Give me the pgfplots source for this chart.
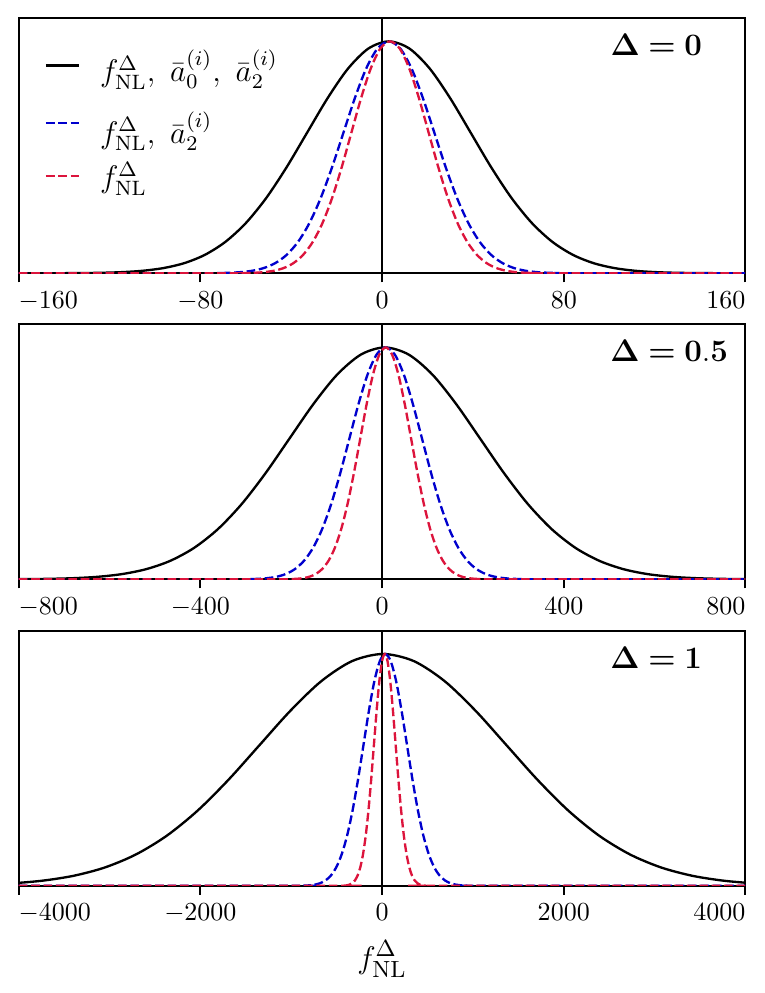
\documentclass[border=0pt]{standalone}
\usepackage{pgfplots}
\pgfplotsset{compat=1.18}
\usepackage{pgfplotstable}
\definecolor{mblue}{RGB}{0,0,205}
\definecolor{crimson}{RGB}{220,20,60}

% ---------- panel 1 (Delta = 0) ----------
\pgfplotstableread{
x y
-160 0
-141 0.00034
-132 0.00088
-123 0.00219
-114 0.00509
-105 0.01111
-96 0.02279
-87 0.04394
-78 0.07956
-69 0.13534
-60 0.21627
-51 0.32465
-42 0.45783
-33 0.60653
-24 0.75484
-15 0.88250
-6 0.96923
3 1.00000
12 0.96923
21 0.88250
30 0.75484
39 0.60653
48 0.45783
57 0.32465
66 0.21627
75 0.13534
84 0.07956
93 0.04394
102 0.02279
111 0.01111
120 0.00509
129 0.00219
138 0.00088
147 0.00034
160 0
}\blackA
\pgfplotstableread{
x y
-160 0
-77 0.00034
-72 0.00088
-67 0.00219
-62 0.00509
-57 0.01111
-52 0.02279
-47 0.04394
-42 0.07956
-37 0.13534
-32 0.21627
-27 0.32465
-22 0.45783
-17 0.60653
-12 0.75484
-7 0.88250
-2 0.96923
3 1.00000
8 0.96923
13 0.88250
18 0.75484
23 0.60653
28 0.45783
33 0.32465
38 0.21627
43 0.13534
48 0.07956
53 0.04394
58 0.02279
63 0.01111
68 0.00509
73 0.00219
78 0.00088
83 0.00034
160 0
}\blueA
\pgfplotstableread{
x y
-160 0
-64.5 0.00034
-60.25 0.00088
-56 0.00219
-51.75 0.00509
-47.5 0.01111
-43.25 0.02279
-39 0.04394
-34.75 0.07956
-30.5 0.13534
-26.25 0.21627
-22 0.32465
-17.75 0.45783
-13.5 0.60653
-9.25 0.75484
-5 0.88250
-0.75 0.96923
3.5 1.00000
7.75 0.96923
12 0.88250
16.25 0.75484
20.5 0.60653
24.75 0.45783
29 0.32465
33.25 0.21627
37.5 0.13534
41.75 0.07956
46 0.04394
50.25 0.02279
54.5 0.01111
58.75 0.00509
63 0.00219
67.25 0.00088
71.5 0.00034
160 0
}\redA

% ---------- panel 2 (Delta = 0.5) ----------
\pgfplotstableread{
x y
-834 0.00034
-781.5 0.00088
-729 0.00219
-676.5 0.00509
-624 0.01111
-571.5 0.02279
-519 0.04394
-466.5 0.07956
-414 0.13534
-361.5 0.21627
-309 0.32465
-256.5 0.45783
-204 0.60653
-151.5 0.75484
-99 0.88250
-46.5 0.96923
6 1.00000
58.5 0.96923
111 0.88250
163.5 0.75484
216 0.60653
268.5 0.45783
321 0.32465
373.5 0.21627
426 0.13534
478.5 0.07956
531 0.04394
583.5 0.02279
636 0.01111
688.5 0.00509
741 0.00219
793.5 0.00088
846 0.00034
}\blackB
\pgfplotstableread{
x y
-800 0
-312 0.00034
-292 0.00088
-272 0.00219
-252 0.00509
-232 0.01111
-212 0.02279
-192 0.04394
-172 0.07956
-152 0.13534
-132 0.21627
-112 0.32465
-92 0.45783
-72 0.60653
-52 0.75484
-32 0.88250
-12 0.96923
8 1.00000
28 0.96923
48 0.88250
68 0.75484
88 0.60653
108 0.45783
128 0.32465
148 0.21627
168 0.13534
188 0.07956
208 0.04394
228 0.02279
248 0.01111
268 0.00509
288 0.00219
308 0.00088
328 0.00034
800 0
}\blueB
\pgfplotstableread{
x y
-800 0
-216 0.00034
-202 0.00088
-188 0.00219
-174 0.00509
-160 0.01111
-146 0.02279
-132 0.04394
-118 0.07956
-104 0.13534
-90 0.21627
-76 0.32465
-62 0.45783
-48 0.60653
-34 0.75484
-20 0.88250
-6 0.96923
8 1.00000
22 0.96923
36 0.88250
50 0.75484
64 0.60653
78 0.45783
92 0.32465
106 0.21627
120 0.13534
134 0.07956
148 0.04394
162 0.02279
176 0.01111
190 0.00509
204 0.00219
218 0.00088
232 0.00034
800 0
}\redB

% ---------- panel 3 (Delta = 1) ----------
\pgfplotstableread{
x y
-5430 0.00034
-5090 0.00088
-4750 0.00219
-4410 0.00509
-4070 0.01111
-3730 0.02279
-3390 0.04394
-3050 0.07956
-2710 0.13534
-2370 0.21627
-2030 0.32465
-1690 0.45783
-1350 0.60653
-1010 0.75484
-670 0.88250
-330 0.96923
10 1.00000
350 0.96923
690 0.88250
1030 0.75484
1370 0.60653
1710 0.45783
2050 0.32465
2390 0.21627
2730 0.13534
3070 0.07956
3410 0.04394
3750 0.02279
4090 0.01111
4430 0.00509
4770 0.00219
5110 0.00088
5450 0.00034
}\blackC
\pgfplotstableread{
x y
-4000 0
-925 0.00034
-865 0.00088
-805 0.00219
-745 0.00509
-685 0.01111
-625 0.02279
-565 0.04394
-505 0.07956
-445 0.13534
-385 0.21627
-325 0.32465
-265 0.45783
-205 0.60653
-145 0.75484
-85 0.88250
-25 0.96923
35 1.00000
95 0.96923
155 0.88250
215 0.75484
275 0.60653
335 0.45783
395 0.32465
455 0.21627
515 0.13534
575 0.07956
635 0.04394
695 0.02279
755 0.01111
815 0.00509
875 0.00219
935 0.00088
995 0.00034
4000 0
}\blueC
\pgfplotstableread{
x y
-4000 0
-450 0.00034
-420 0.00088
-390 0.00219
-360 0.00509
-330 0.01111
-300 0.02279
-270 0.04394
-240 0.07956
-210 0.13534
-180 0.21627
-150 0.32465
-120 0.45783
-90 0.60653
-60 0.75484
-30 0.88250
0 0.96923
30 1.00000
60 0.96923
90 0.88250
120 0.75484
150 0.60653
180 0.45783
210 0.32465
240 0.21627
270 0.13534
300 0.07956
330 0.04394
360 0.02279
390 0.01111
420 0.00509
450 0.00219
480 0.00088
510 0.00034
4000 0
}\redC

\pgfplotsset{
  panel/.style={
    scale only axis, width=279.5pt, height=98.1pt,
    anchor=south west,
    ymin=0, ymax=1.1, ytick=\empty,
    axis line style={line width=0.8pt},
    tick align=outside, xtick pos=left,
    major tick length=3.5pt,
    major tick style={black, line width=0.8pt},
    title style={at={(0.8136,0.895)}, anchor=west, inner sep=0pt, yshift=-6pt,
      font=\fontsize{12}{14}\selectfont},
  },
  legend image code/.code={\draw[#1] (0pt,0pt) -- (12.7pt,0pt);},
}

\begin{document}
\begin{tikzpicture}
\path[use as bounding box] (0,0) rectangle (294.2pt,381.9pt);

% panel 3
\begin{axis}[panel, at={(7.19pt,41.2pt)},
  xmin=-4000, xmax=4000, xtick={-4000,-2000,0,2000,4000},
  xticklabels={\rlap{$-4000$},$-2000$,$0$,$2000$,\llap{$4000$}},
  xlabel={$f_{\mathrm{NL}}^{\Delta}$},
  xlabel style={font=\fontsize{12.5}{14}\selectfont},
  title={$\mathbf{\Delta}\mathrel{\textbf{=}}\mathbf{1}$},
]
\addplot[black, line width=0.6pt, forget plot] coordinates {(0,0) (0,1.1)};
\addplot[black, line width=0.9pt, smooth] table {\blackC};
\addplot[mblue, line width=0.9pt, dash pattern=on 3.33pt off 1.44pt, smooth] table {\blueC};
\addplot[crimson, line width=0.9pt, dash pattern=on 3.33pt off 1.44pt, smooth] table {\redC};
\end{axis}

% panel 2
\begin{axis}[panel, at={(7.19pt,159.1pt)},
  xmin=-800, xmax=800, xtick={-800,-400,0,400,800},
  xticklabels={\rlap{$-800$},$-400$,$0$,$400$,\llap{$800$}},
  title={$\mathbf{\Delta}\mathrel{\textbf{=}}\mathbf{0.5}$},
]
\addplot[black, line width=0.6pt, forget plot] coordinates {(0,0) (0,1.1)};
\addplot[black, line width=0.9pt, smooth] table {\blackB};
\addplot[mblue, line width=0.9pt, dash pattern=on 3.33pt off 1.44pt, smooth] table {\blueB};
\addplot[crimson, line width=0.9pt, dash pattern=on 3.33pt off 1.44pt, smooth] table {\redB};
\end{axis}

% panel 1
\begin{axis}[panel, at={(7.19pt,276.8pt)},
  xmin=-160, xmax=160, xtick={-160,-80,0,80,160},
  xticklabels={\rlap{$-160$},$-80$,$0$,$80$,\llap{$160$}},
  title={$\mathbf{\Delta}\mathrel{\textbf{=}}\mathbf{0}$},
  legend style={draw=none, fill=none, at={(0,1)}, anchor=north west,
    xshift=9.8pt, yshift=-10.2pt, row sep=5.2pt, column sep=7.7pt, inner sep=0pt,
    nodes={inner sep=0pt}, font=\fontsize{11.5}{13.5}\selectfont},
  legend cell align=left,
]
\addplot[black, line width=0.6pt, forget plot] coordinates {(0,0) (0,1.1)};
\addplot[black, line width=0.9pt, smooth] table {\blackA};
\addlegendentry{\raisebox{0pt}[14pt][5pt]{$f_{\mathrm{NL}}^{\Delta},\ \bar{a}_0^{(i)},\ \bar{a}_2^{(i)}$}}
\addplot[mblue, line width=0.9pt, dash pattern=on 3.33pt off 1.44pt, smooth] table {\blueA};
\addlegendentry{\raisebox{0pt}[17pt][3.5pt]{$f_{\mathrm{NL}}^{\Delta},\ \bar{a}_2^{(i)}$}}
\addplot[crimson, line width=0.9pt, dash pattern=on 3.33pt off 1.44pt, smooth] table {\redA};
\addlegendentry{\raisebox{0pt}[10.3pt][5pt]{$f_{\mathrm{NL}}^{\Delta}$}}
\end{axis}
\end{tikzpicture}
\end{document}
